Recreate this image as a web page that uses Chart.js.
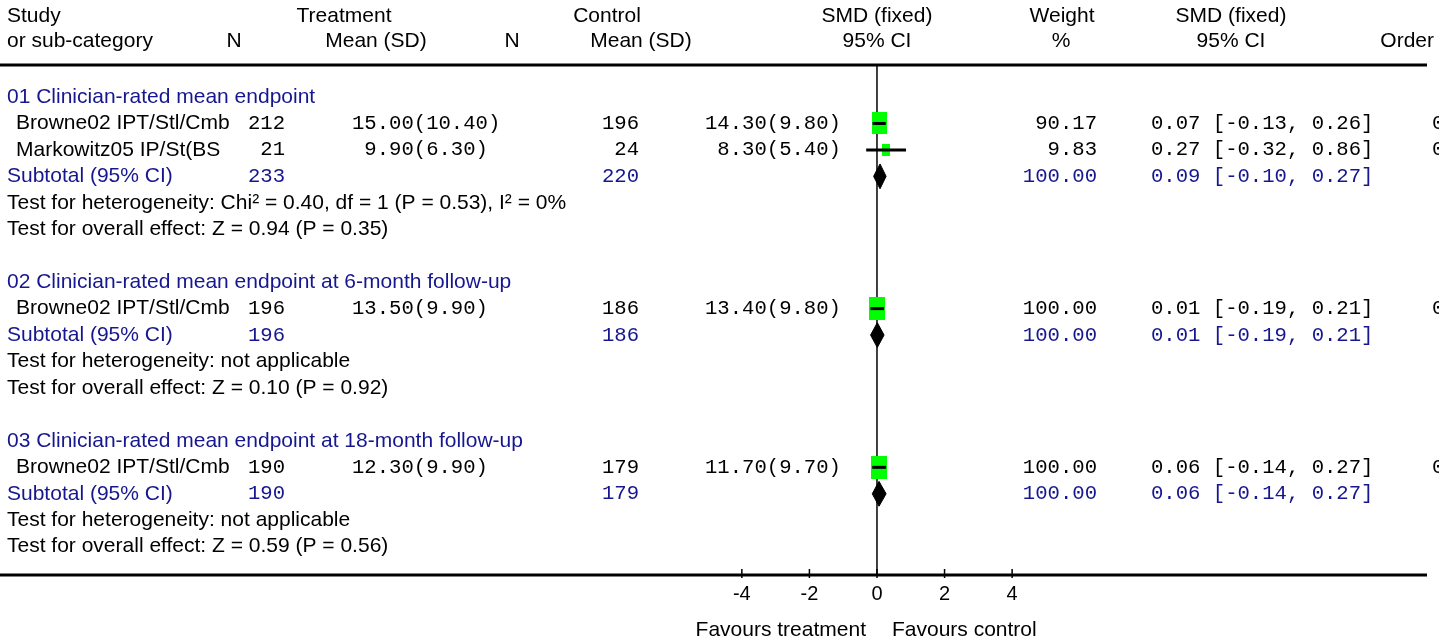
<!DOCTYPE html>
<html>
<head>
<meta charset="utf-8">
<script src="https://cdn.jsdelivr.net/npm/chart.js@4/dist/chart.umd.min.js"></script>
<style>
  html, body { margin: 0; padding: 0; background: #fff; }
</style>
</head>
<body>
<canvas id="forest" width="1455" height="641"></canvas>
<script>
// ---- data ----
const groupTitles = [
    '01 Clinician-rated mean endpoint',
    '02 Clinician-rated mean endpoint at 6-month follow-up',
    '03 Clinician-rated mean endpoint at 18-month follow-up'
];
const studyGroup = [0, 0, 1, 2];
const studyNames = ['Browne02 IPT/Stl/Cmb', 'Markowitz05 IP/St(BS', 'Browne02 IPT/Stl/Cmb', 'Browne02 IPT/Stl/Cmb'];
const trtN = [212, 21, 196, 190];
const trtMean = [15.00, 9.90, 13.50, 12.30];
const trtSD = [10.40, 6.30, 9.90, 9.90];
const ctlN = [196, 24, 186, 179];
const ctlMean = [14.30, 8.30, 13.40, 11.70];
const ctlSD = [9.80, 5.40, 9.80, 9.70];
const studyWeight = [90.17, 9.83, 100.00, 100.00];
const studySmd = [0.07, 0.27, 0.01, 0.06];
const studyLow = [-0.13, -0.32, -0.19, -0.14];
const studyHigh = [0.26, 0.86, 0.21, 0.27];
const studyOrder = ['01', '02', '01', '01'];

const subTrtN = [233, 196, 190];
const subCtlN = [220, 186, 179];
const subWeight = [100.00, 100.00, 100.00];
const subSmd = [0.09, 0.01, 0.06];
const subLow = [-0.10, -0.19, -0.14];
const subHigh = [0.27, 0.21, 0.27];
const heterogeneity = [
    'Chi² = 0.40, df = 1 (P = 0.53), I² = 0%',
    'not applicable',
    'not applicable'
];
const overallEffect = ['Z = 0.94 (P = 0.35)', 'Z = 0.10 (P = 0.92)', 'Z = 0.59 (P = 0.56)'];
const xTickValues = [-4, -2, 0, 2, 4];

// ---- layout / style ----
const SANS_FAMILY = '"Liberation Sans", Arial, sans-serif';
const SANS = '21px ' + SANS_FAMILY;
const MONO = '20.6px "Liberation Mono", "Courier New", monospace';
const BLUE = '#16168f';
const BLACK = '#000';
const GREEN = '#00ff00';
const X_MIN = -25.81, X_MAX = 16.28;   // puts 0 at ~877px
const Y_MIN = -1.21, Y_MAX = 18.07;
const DIAMOND_HALF = 0.47;            // in row units
const HEADER_ROWS = [-3.06, -2.12];
const RULE_RIGHT = 1427;

// lay the rows out: title, studies, subtotal, tests, blank
const titleRow = [], studyRow = [], subRow = [], hetRow = [], effRow = [];
let r = 0;
groupTitles.forEach(function (t, g) {
    titleRow.push(r++);
    studyGroup.forEach(function (sg, i) {
        if (sg === g) studyRow[i] = r++;
    });
    subRow.push(r++);
    hetRow.push(r++);
    effRow.push(r++);
    r++;
});

function fmtMeanSd(m, sd) {
    return m.toFixed(2).padStart(5, ' ') + '(' + sd.toFixed(2) + ')';
}
function fmtCi(e, lo, hi) {
    return e.toFixed(2) + ' [' + lo.toFixed(2) + ', ' + hi.toFixed(2) + ']';
}

// green box sized by weight, a bit taller than wide
function makeBox(weight) {
    const w = Math.round(7 + 0.09 * weight);
    const h = Math.round(w * 1.45);
    const c = document.createElement('canvas');
    c.width = w;
    c.height = h;
    const cx = c.getContext('2d');
    cx.fillStyle = GREEN;
    cx.fillRect(0, 0, w, h);
    return c;
}
const boxImages = studyWeight.map(makeBox);

const datasets = [];

// confidence interval lines (drawn on top)
studySmd.forEach(function (e, i) {
    datasets.push({
        type: 'line',
        data: [{ x: studyLow[i], y: studyRow[i] }, { x: studyHigh[i], y: studyRow[i] }],
        borderColor: BLACK,
        borderWidth: 3,
        pointRadius: 0,
        order: 0
    });
});

// weighted boxes
datasets.push({
    type: 'scatter',
    data: studySmd.map(function (e, i) { return { x: e, y: studyRow[i] }; }),
    pointStyle: function (ctx) { return boxImages[ctx.dataIndex]; },
    order: 1
});

// subtotal diamonds
subSmd.forEach(function (e, g) {
    const y = subRow[g];
    datasets.push({
        type: 'line',
        data: [
            { x: subLow[g], y: y },
            { x: e, y: y - DIAMOND_HALF },
            { x: subHigh[g], y: y },
            { x: e, y: y + DIAMOND_HALF },
            { x: subLow[g], y: y }
        ],
        borderColor: BLACK,
        backgroundColor: BLACK,
        borderWidth: 1,
        pointRadius: 0,
        fill: 'shape',
        order: 1
    });
});

function txt(ctx, s, x, y, align, font, color) {
    ctx.font = font;
    ctx.fillStyle = color;
    ctx.textAlign = align;
    ctx.textBaseline = 'middle';
    ctx.fillText(s, x, y);
}

const forestDecor = {
    id: 'forestDecor',
    beforeDatasetsDraw(chart) {
        const ctx = chart.ctx;
        const a = chart.chartArea;
        const x0 = chart.scales.x.getPixelForValue(0);
        ctx.save();
        ctx.strokeStyle = BLACK;
        ctx.lineWidth = 3;
        [a.top, a.bottom].forEach(function (y) {
            ctx.beginPath();
            ctx.moveTo(0, y);
            ctx.lineTo(RULE_RIGHT, y);
            ctx.stroke();
        });
        ctx.lineWidth = 1.5;
        ctx.beginPath();
        ctx.moveTo(x0, a.top);
        ctx.lineTo(x0, a.bottom);
        ctx.stroke();
        ctx.restore();
    },
    afterDraw(chart) {
        const ctx = chart.ctx;
        const xs = chart.scales.x;
        const ys = chart.scales.y;
        const a = chart.chartArea;
        const Y = function (row) { return ys.getPixelForValue(row); };
        ctx.save();

        // axis ticks
        ctx.strokeStyle = BLACK;
        ctx.lineWidth = 1.5;
        xTickValues.forEach(function (v) {
            const px = xs.getPixelForValue(v);
            ctx.beginPath();
            ctx.moveTo(px, a.bottom - 6);
            ctx.lineTo(px, a.bottom + 3);
            ctx.stroke();
        });

        // column headers
        const h1 = Y(HEADER_ROWS[0]), h2 = Y(HEADER_ROWS[1]);
        txt(ctx, 'Study', 7, h1, 'left', SANS, BLACK);
        txt(ctx, 'Treatment', 344, h1, 'center', SANS, BLACK);
        txt(ctx, 'Control', 607, h1, 'center', SANS, BLACK);
        txt(ctx, 'SMD (fixed)', 877, h1, 'center', SANS, BLACK);
        txt(ctx, 'Weight', 1062, h1, 'center', SANS, BLACK);
        txt(ctx, 'SMD (fixed)', 1231, h1, 'center', SANS, BLACK);
        txt(ctx, 'or sub-category', 7, h2, 'left', SANS, BLACK);
        txt(ctx, 'N', 234, h2, 'center', SANS, BLACK);
        txt(ctx, 'Mean (SD)', 376, h2, 'center', SANS, BLACK);
        txt(ctx, 'N', 512, h2, 'center', SANS, BLACK);
        txt(ctx, 'Mean (SD)', 641, h2, 'center', SANS, BLACK);
        txt(ctx, '95% CI', 877, h2, 'center', SANS, BLACK);
        txt(ctx, '%', 1061, h2, 'center', SANS, BLACK);
        txt(ctx, '95% CI', 1231, h2, 'center', SANS, BLACK);
        txt(ctx, 'Order', 1434, h2, 'right', SANS, BLACK);

        groupTitles.forEach(function (t, g) {
            txt(ctx, t, 7, Y(titleRow[g]), 'left', SANS, BLUE);
            const ys2 = Y(subRow[g]);
            txt(ctx, 'Subtotal (95% CI)', 7, ys2, 'left', SANS, BLUE);
            txt(ctx, String(subTrtN[g]), 285, ys2, 'right', MONO, BLUE);
            txt(ctx, String(subCtlN[g]), 639, ys2, 'right', MONO, BLUE);
            txt(ctx, subWeight[g].toFixed(2), 1097, ys2, 'right', MONO, BLUE);
            txt(ctx, fmtCi(subSmd[g], subLow[g], subHigh[g]), 1151, ys2, 'left', MONO, BLUE);
            txt(ctx, 'Test for heterogeneity: ' + heterogeneity[g], 7, Y(hetRow[g]), 'left', SANS, BLACK);
            txt(ctx, 'Test for overall effect: ' + overallEffect[g], 7, Y(effRow[g]), 'left', SANS, BLACK);
        });

        studyNames.forEach(function (name, i) {
            const y = Y(studyRow[i]);
            txt(ctx, name, 16, y, 'left', SANS, BLACK);
            txt(ctx, String(trtN[i]), 285, y, 'right', MONO, BLACK);
            txt(ctx, fmtMeanSd(trtMean[i], trtSD[i]), 352, y, 'left', MONO, BLACK);
            txt(ctx, String(ctlN[i]), 639, y, 'right', MONO, BLACK);
            txt(ctx, fmtMeanSd(ctlMean[i], ctlSD[i]), 705, y, 'left', MONO, BLACK);
            txt(ctx, studyWeight[i].toFixed(2), 1097, y, 'right', MONO, BLACK);
            txt(ctx, fmtCi(studySmd[i], studyLow[i], studyHigh[i]), 1151, y, 'left', MONO, BLACK);
        });

        // order column is cut off at the figure edge
        ctx.save();
        ctx.beginPath();
        ctx.rect(0, 0, 1439, chart.height);
        ctx.clip();
        studyOrder.forEach(function (o, i) {
            txt(ctx, o, 1432, Y(studyRow[i]), 'left', MONO, BLACK);
        });
        ctx.restore();

        // axis captions
        const x0 = xs.getPixelForValue(0);
        txt(ctx, 'Favours treatment', x0 - 11, 630, 'right', SANS, BLACK);
        txt(ctx, 'Favours control', x0 + 15, 630, 'left', SANS, BLACK);

        ctx.restore();
    }
};

new Chart(document.getElementById('forest'), {
    type: 'scatter',
    data: { datasets: datasets },
    options: {
        responsive: false,
        animation: false,
        layout: { padding: { top: 65, right: 28, left: 0, bottom: 0 } },
        plugins: {
            legend: { display: false },
            tooltip: { enabled: false }
        },
        scales: {
            x: {
                type: 'linear',
                min: X_MIN,
                max: X_MAX,
                afterBuildTicks: function (scale) {
                    scale.ticks = xTickValues.map(function (v) { return { value: v }; });
                },
                afterFit: function (scale) { scale.height = 66; },
                grid: { display: false, drawTicks: false },
                border: { display: false },
                ticks: {
                    padding: 7,
                    color: BLACK,
                    font: { family: SANS_FAMILY, size: 20 },
                    maxRotation: 0,
                    autoSkip: false
                }
            },
            y: {
                type: 'linear',
                reverse: true,
                min: Y_MIN,
                max: Y_MAX,
                display: false
            }
        }
    },
    plugins: [forestDecor]
});
</script>
</body>
</html>
